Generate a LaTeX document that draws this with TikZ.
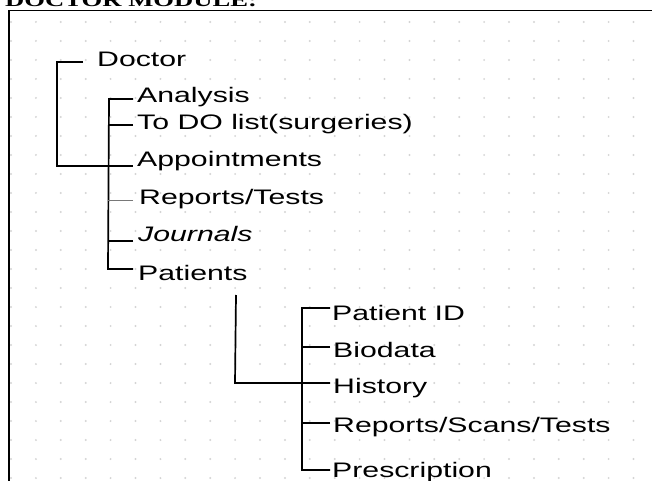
\documentclass[tikz,border=0pt]{standalone}
\usepackage{fontspec}
\newfontfamily\itemfont[FakeStretch=1.44]{Liberation Sans}
\newfontfamily\titlefont[FakeStretch=1.44]{Liberation Serif}
\definecolor{griddot}{RGB}{212,212,212}
\definecolor{thinline}{RGB}{120,120,120}

\begin{document}
\begin{tikzpicture}[x=1bp, y=-1bp,
	item/.style={anchor=base west, inner sep=0pt, font=\itemfont\fontsize{21bp}{25bp}\selectfont},
	branch/.style={line width=1.7bp, black}]

	\useasboundingbox (0,0) rectangle (652,481);
	% dotted sheet
	\foreach \i in {0,...,25}
		\foreach \j in {0,...,24}
			\fill[griddot] (11+24.9*\i, 22+19*\j) circle (1.1bp);

	\draw[line width=1.6bp] (9,481) -- (9,10.5) -- (652,10.5);
	\node[anchor=base west, inner sep=0pt, font=\titlefont\bfseries\fontsize{18.5bp}{20bp}\selectfont] (title) at (5,7) {DOCTOR MODULE:};

	\node[item] (doctor) at (97,67) {Doctor};
	\node[item] (analysis) at (137,103) {Analysis};
	\node[item] (todo) at (137,130) {To DO list(surgeries)};
	\node[item] (appoint) at (137,167) {Appointments};
	\node[item] (reports) at (139,205) {Reports/Tests};
	\node[item] (journals) at (138,242) {\itshape Journals};
	\node[item] (patients) at (138,280) {Patients};

	\node[item] (patid) at (332,320) {Patient ID};
	\node[item] (biodata) at (333,357) {Biodata};
	\node[item] (history) at (333,393) {History};
	\node[item] (repscans) at (333,432) {Reports/Scans/Tests};
	\node[item] (prescr) at (332,477) {Prescription};

	\coordinate (rootS) at (57,166);
	\coordinate (mainT) at (109,99);
	\coordinate (mainB) at (108,269);
	\coordinate (subT) at (236,295);
	\coordinate (subB) at (235,383);
	\coordinate (patT) at (302,308);
	\coordinate (patB) at (302,470);

	% doctor bracket
	\draw[branch] ([xshift=-14bp,yshift=5bp]doctor.base west) -| (rootS) -- ([xshift=-4bp,yshift=1bp]appoint.base west);
	\draw[branch] ([xshift=-4bp,yshift=4bp]analysis.base west) -- (mainT) -- (mainB) -- ([xshift=-5bp,yshift=11bp]patients.base west);
	\draw[branch] ([xshift=-4bp,yshift=5bp]todo.base west) -- +(-24,0);
	\draw[thinline, line width=0.9bp] ([xshift=-6bp,yshift=5bp]reports.base west) -- +(-25,0);
	\draw[branch] ([xshift=-5bp,yshift=1bp]journals.base west) -- +(-25,0);

	% patients bracket
	\draw[branch] (subT) -- (subB) -- ([xshift=-3bp,yshift=10bp]history.base west);
	\draw[branch] ([xshift=-2bp,yshift=12bp]patid.base west) -- (patT) -- (patB) -- ([xshift=-2bp,yshift=7bp]prescr.base west);
	\draw[branch] ([xshift=-3bp,yshift=10bp]biodata.base west) -- +(-28,0);
	\draw[branch] ([xshift=-3bp,yshift=9bp]repscans.base west) -- +(-28,0);

\end{tikzpicture}
\end{document}
